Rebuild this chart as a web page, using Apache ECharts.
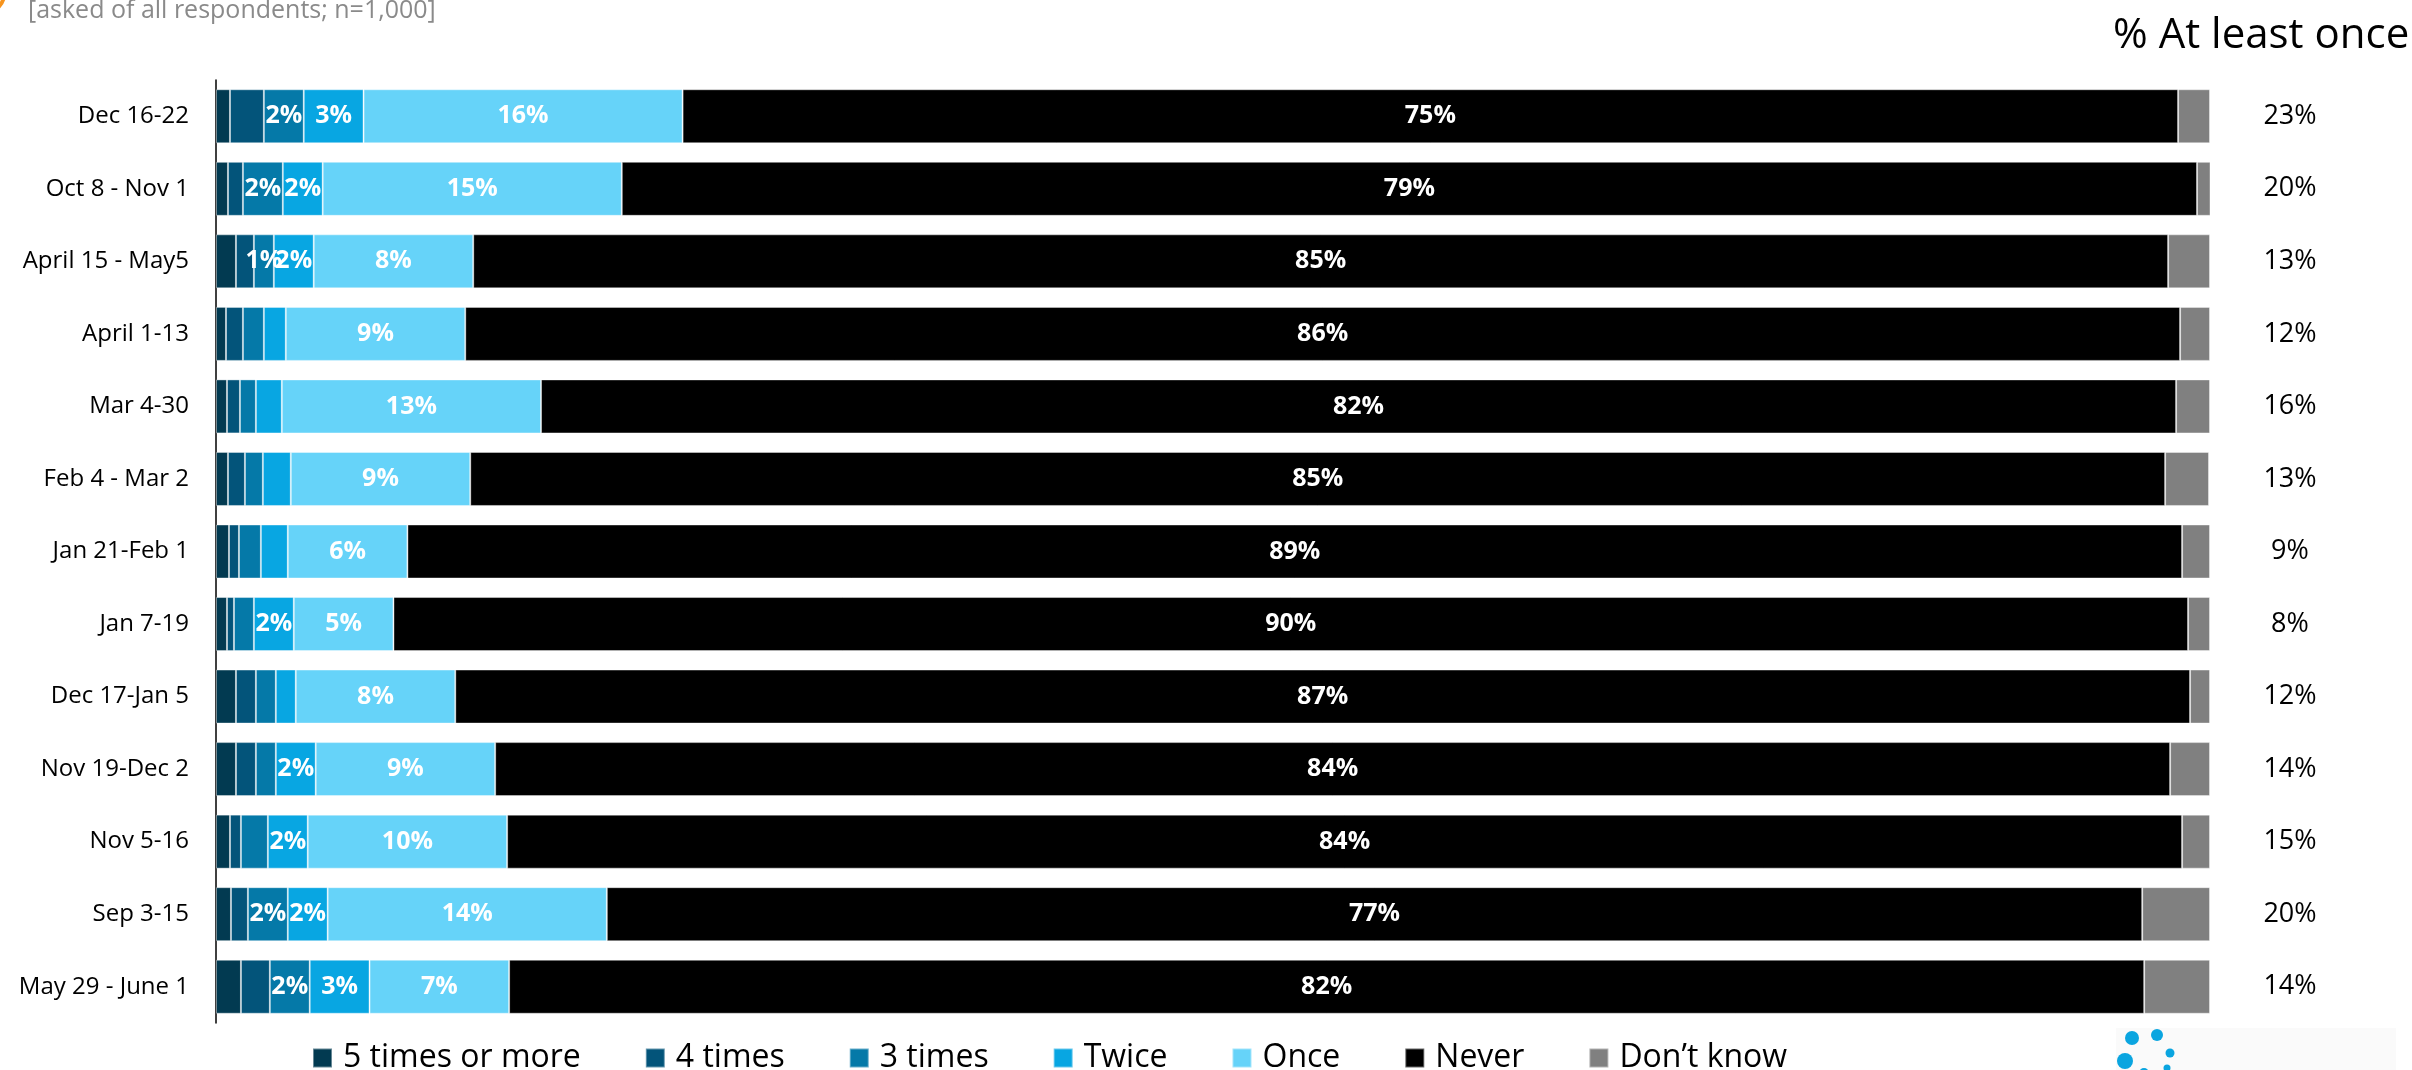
<!DOCTYPE html>
<html>
<head>
<meta charset="utf-8">
<script src="https://cdn.jsdelivr.net/npm/echarts@6/dist/echarts.min.js"></script>
<style>
  html, body { margin: 0; padding: 0; background: #ffffff; }
  #chart { width: 2412px; height: 1070px; }
</style>
</head>
<body>
<div id="chart"></div>
<script>
// Survey waves, newest at the top
const categories = [
  'Dec 16-22', 'Oct 8 - Nov 1', 'April 15 - May5', 'April 1-13', 'Mar 4-30',
  'Feb 4 - Mar 2', 'Jan 21-Feb 1', 'Jan 7-19', 'Dec 17-Jan 5', 'Nov 19-Dec 2',
  'Nov 5-16', 'Sep 3-15', 'May 29 - June 1'
];

// Share of respondents (%) per answer
const fivePlus  = [0.7, 0.6, 1.0, 0.5, 0.55, 0.6, 0.65, 0.55, 1.0, 1.0, 0.7, 0.75, 1.25];
const fourTimes = [1.7, 0.75, 0.9, 0.85, 0.65, 0.85, 0.5, 0.35, 1.0, 1.0, 0.55, 0.85, 1.45];
const threeTimes = [2, 2, 1, 1.05, 0.8, 0.9, 1.1, 1.0, 1.0, 1.0, 1.35, 2, 2];
const twice     = [3, 2, 2, 1.1, 1.3, 1.4, 1.35, 2, 1.0, 2, 2, 2, 3];
const once      = [16, 15, 8, 9, 13, 9, 6, 5, 8, 9, 10, 14, 7];
const never     = [75, 79, 85, 86, 82, 85, 89, 90, 87, 84, 84, 77, 82];
const dontKnow  = [1.6, 0.9, 2.1, 1.5, 1.7, 2.2, 1.4, 1.1, 1.0, 2.0, 1.4, 3.4, 3.3];

// Which small segments carry a value label
const threeShown = [true, true, true, false, false, false, false, false, false, false, false, true, true];
const twiceShown = [true, true, true, false, false, false, false, true, false, true, true, true, true];

// "% At least once" column
const atLeastOnce = [23, 20, 13, 12, 16, 13, 9, 8, 12, 14, 15, 20, 14];

const seriesNames = ['5 times or more', '4 times', '3 times', 'Twice', 'Once', 'Never', 'Don\u2019t know'];
const seriesColors = ['#023A51', '#03547A', '#0579A8', '#08A6E2', '#66D3F9', '#000000', '#808080'];

const FONT = '"Open Sans", "Noto Sans", sans-serif';

const valueLabel = {
  show: true,
  position: 'inside',
  color: '#ffffff',
  fontFamily: FONT,
  fontWeight: 'bold',
  fontSize: 25,
  formatter: p => Math.round(p.value) + '%'
};

function withFlags(values, flags) {
  return values.map((v, i) => ({ value: v, label: { show: flags[i] } }));
}

function barSeries(name, idx, data, label) {
  return {
    name: name,
    type: 'bar',
    stack: 'total',
    barWidth: 54,
    data: data,
    itemStyle: {
      color: seriesColors[idx],
      borderColor: 'rgba(255,255,255,0.4)',
      borderWidth: 1
    },
    label: label ? valueLabel : { show: false },
    emphasis: { disabled: true }
  };
}

const chart = echarts.init(document.getElementById('chart'), null, { renderer: 'canvas' });

chart.setOption({
  backgroundColor: '#ffffff',
  animation: false,
  textStyle: { fontFamily: FONT },
  grid: { left: 216, right: 202, top: 80, bottom: 47, containLabel: false },
  xAxis: {
    type: 'value',
    min: 0,
    max: 100,
    show: false
  },
  yAxis: [
    {
      type: 'category',
      data: categories,
      inverse: true,
      axisLine: { show: true, lineStyle: { color: '#000000', width: 1.5 } },
      axisTick: { show: false },
      axisLabel: { color: '#000000', fontSize: 24, fontFamily: FONT, margin: 27 }
    },
    {
      type: 'category',
      data: categories,
      inverse: true,
      position: 'right',
      axisLine: { show: false },
      axisTick: { show: false },
      axisLabel: {
        color: '#000000',
        fontSize: 27,
        fontFamily: FONT,
        align: 'center',
        margin: 80,
        formatter: (v, i) => atLeastOnce[i] + '%'
      }
    }
  ],
  legend: {
    data: seriesNames,
    left: 307,
    top: 1037,
    itemWidth: 19,
    itemHeight: 19,
    itemGap: 64,
    icon: 'rect',
    textStyle: { color: '#000000', fontSize: 32, fontFamily: FONT, padding: [0, 0, 0, 6] }
  },
  graphic: [
    {
      type: 'text',
      left: 2113,
      top: 15,
      style: { text: '% At least once', fill: '#000000', font: '42px ' + FONT }
    },
    {
      type: 'text',
      left: 28,
      top: -2,
      style: { text: '[asked of all respondents; n=1,000]', fill: '#8a8a8a', font: '25px ' + FONT }
    },
    {
      type: 'circle',
      shape: { cx: -14, cy: -6, r: 18 },
      style: { fill: 'none', stroke: '#F7941D', lineWidth: 4 }
    },
    {
      type: 'rect',
      shape: { x: 2116, y: 1028, width: 280, height: 42 },
      style: { fill: '#fafafa' },
      z: -1
    },
    { type: 'circle', shape: { cx: 2132, cy: 1038, r: 7 }, style: { fill: '#0AA5E0' } },
    { type: 'circle', shape: { cx: 2157, cy: 1035, r: 6 }, style: { fill: '#0AA5E0' } },
    { type: 'circle', shape: { cx: 2170, cy: 1053, r: 4.5 }, style: { fill: '#0AA5E0' } },
    { type: 'circle', shape: { cx: 2125, cy: 1061, r: 8 }, style: { fill: '#0AA5E0' } },
    { type: 'circle', shape: { cx: 2167, cy: 1068, r: 3.5 }, style: { fill: '#0AA5E0' } },
    { type: 'circle', shape: { cx: 2144, cy: 1073, r: 5 }, style: { fill: '#0AA5E0' } }
  ],
  series: [
    barSeries(seriesNames[0], 0, fivePlus, false),
    barSeries(seriesNames[1], 1, fourTimes, false),
    barSeries(seriesNames[2], 2, withFlags(threeTimes, threeShown), true),
    barSeries(seriesNames[3], 3, withFlags(twice, twiceShown), true),
    barSeries(seriesNames[4], 4, once, true),
    barSeries(seriesNames[5], 5, never, true),
    barSeries(seriesNames[6], 6, dontKnow, false)
  ]
});
</script>
</body>
</html>
